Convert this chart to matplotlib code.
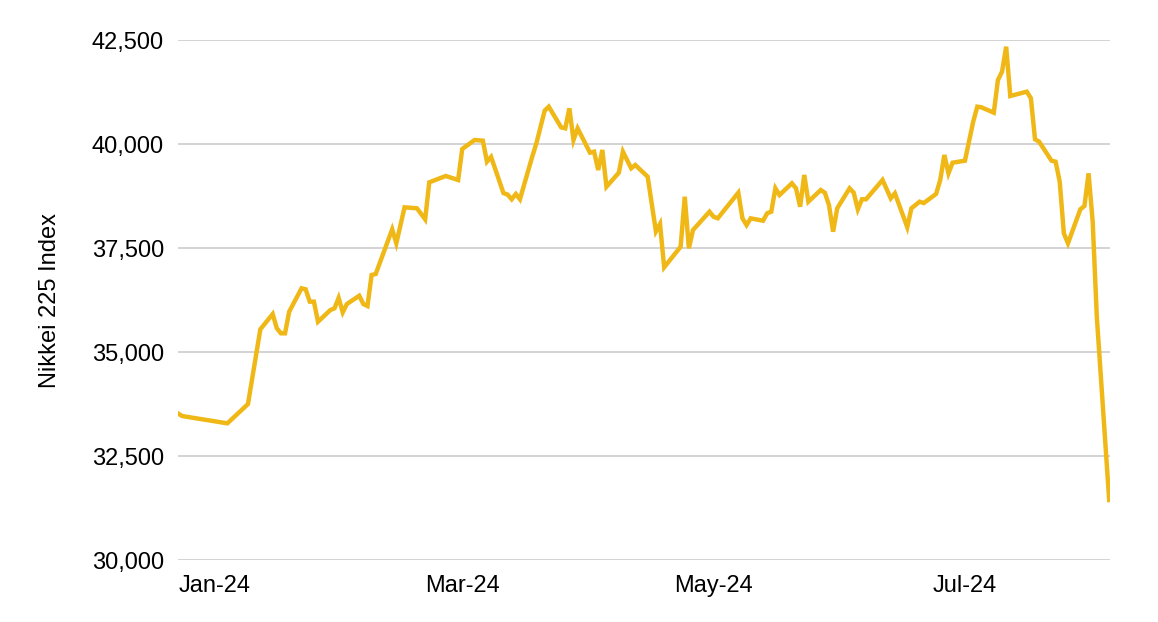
import matplotlib
matplotlib.use("Agg")
import matplotlib.pyplot as plt
import matplotlib.dates as mdates
from matplotlib.ticker import FuncFormatter, FixedLocator
import pandas as pd

dates = ["2023-12-23","2023-12-24","2024-01-04","2024-01-09","2024-01-12","2024-01-15","2024-01-16","2024-01-17","2024-01-18","2024-01-19",
         "2024-01-22","2024-01-23","2024-01-24","2024-01-25","2024-01-26","2024-01-29","2024-01-30","2024-01-31","2024-02-01","2024-02-02",
         "2024-02-05","2024-02-06","2024-02-07","2024-02-08","2024-02-09","2024-02-13","2024-02-14","2024-02-16","2024-02-19","2024-02-21",
         "2024-02-22","2024-02-26","2024-02-29","2024-03-01","2024-03-04","2024-03-06","2024-03-07","2024-03-08","2024-03-11","2024-03-12",
         "2024-03-13","2024-03-14","2024-03-15","2024-03-18","2024-03-19","2024-03-21","2024-03-22","2024-03-25","2024-03-26","2024-03-27",
         "2024-03-28","2024-03-29","2024-04-01","2024-04-02","2024-04-03","2024-04-04","2024-04-05","2024-04-08","2024-04-09","2024-04-11",
         "2024-04-12","2024-04-15","2024-04-17","2024-04-18","2024-04-19","2024-04-23","2024-04-24","2024-04-25","2024-04-26","2024-04-30",
         "2024-05-01","2024-05-02","2024-05-07","2024-05-08","2024-05-09","2024-05-10","2024-05-13","2024-05-14","2024-05-15","2024-05-16",
         "2024-05-17","2024-05-20","2024-05-21","2024-05-22","2024-05-23","2024-05-24","2024-05-27","2024-05-28","2024-05-29","2024-05-30",
         "2024-05-31","2024-06-03","2024-06-04","2024-06-05","2024-06-06","2024-06-07","2024-06-11","2024-06-13","2024-06-14","2024-06-17",
         "2024-06-18","2024-06-20","2024-06-21","2024-06-24","2024-06-25","2024-06-26","2024-06-27","2024-06-28","2024-07-01","2024-07-03",
         "2024-07-04","2024-07-05","2024-07-08","2024-07-09","2024-07-10","2024-07-11","2024-07-12","2024-07-16","2024-07-17","2024-07-18",
         "2024-07-19","2024-07-22","2024-07-23","2024-07-24","2024-07-25","2024-07-26","2024-07-29","2024-07-30","2024-07-31","2024-08-01",
         "2024-08-02","2024-08-05"]

nikkei = [33525, 33461, 33285, 33749, 35545, 35913, 35570, 35449, 35449, 35969,
          36531, 36507, 36210, 36210, 35728, 36009, 36050, 36300, 35954, 36153,
          36353, 36153, 36105, 36851, 36875, 37949, 37613, 38478, 38454, 38190,
          39079, 39231, 39135, 39880, 40096, 40080, 39575, 39690, 38820, 38785,
          38671, 38798, 38671, 39700, 40017, 40801, 40897, 40401, 40377, 40858,
          40096, 40377, 39791, 39815, 39375, 39856, 38973, 39310, 39815, 39416,
          39495, 39214, 37900, 38080, 37036, 37531, 38733, 37493, 37932, 38372,
          38252, 38213, 38829, 38213, 38052, 38213, 38156, 38334, 38373, 38935,
          38774, 39055, 38935, 38493, 39255, 38613, 38894, 38829, 38533, 37892,
          38454, 38935, 38829, 38430, 38671, 38671, 39135, 38694, 38815, 38000,
          38454, 38613, 38580, 38800, 39135, 39736, 39295, 39551, 39599, 40536,
          40897, 40881, 40753, 41538, 41738, 42339, 41154, 41258, 41100, 40113,
          40056, 39599, 39575, 39095, 37853, 37613, 38430, 38510, 39295, 38132,
          35848, 31442]

y_ticks = [30000, 32500, 35000, 37500, 40000, 42500]
x_tick_dates = ["2024-01-01", "2024-03-01", "2024-05-01", "2024-07-01"]
y_label = "Nikkei 225 Index"

assert len(dates) == len(nikkei)

plt.rcParams['font.family'] = ['Liberation Sans', 'DejaVu Sans']

fig = plt.figure(figsize=(11.58, 6.22), dpi=100)
ax = fig.add_axes([178/1158, 62/622, 932/1158, 520/622])

x = pd.to_datetime(dates)
ax.plot(x, nikkei, color='#F0B816', lw=3.2, solid_joinstyle='miter', zorder=3)

ax.set_ylim(30000, 42500)
ax.yaxis.set_major_locator(FixedLocator(y_ticks))
ax.yaxis.set_major_formatter(FuncFormatter(lambda v, p: f"{v:,.0f}"))

jan1 = mdates.date2num(pd.Timestamp("2024-01-01"))
ax.set_xlim(jan1 - 8.98, jan1 + 217.2)
ax.xaxis.set_major_locator(FixedLocator(mdates.date2num(pd.to_datetime(x_tick_dates))))
ax.xaxis.set_major_formatter(mdates.DateFormatter('%b-%y'))

ax.grid(axis='y', color='#C8C8C8', lw=1.1)
ax.set_axisbelow(True)
for s in ax.spines.values():
    s.set_visible(False)
ax.tick_params(axis='both', length=0, labelsize=17, colors='#000000')
ax.tick_params(axis='y', pad=10)
ax.tick_params(axis='x', pad=11)
ax.set_ylabel(y_label, fontsize=17, labelpad=22, color='#000000')

fig.savefig("out.png", dpi=100, facecolor='white')
